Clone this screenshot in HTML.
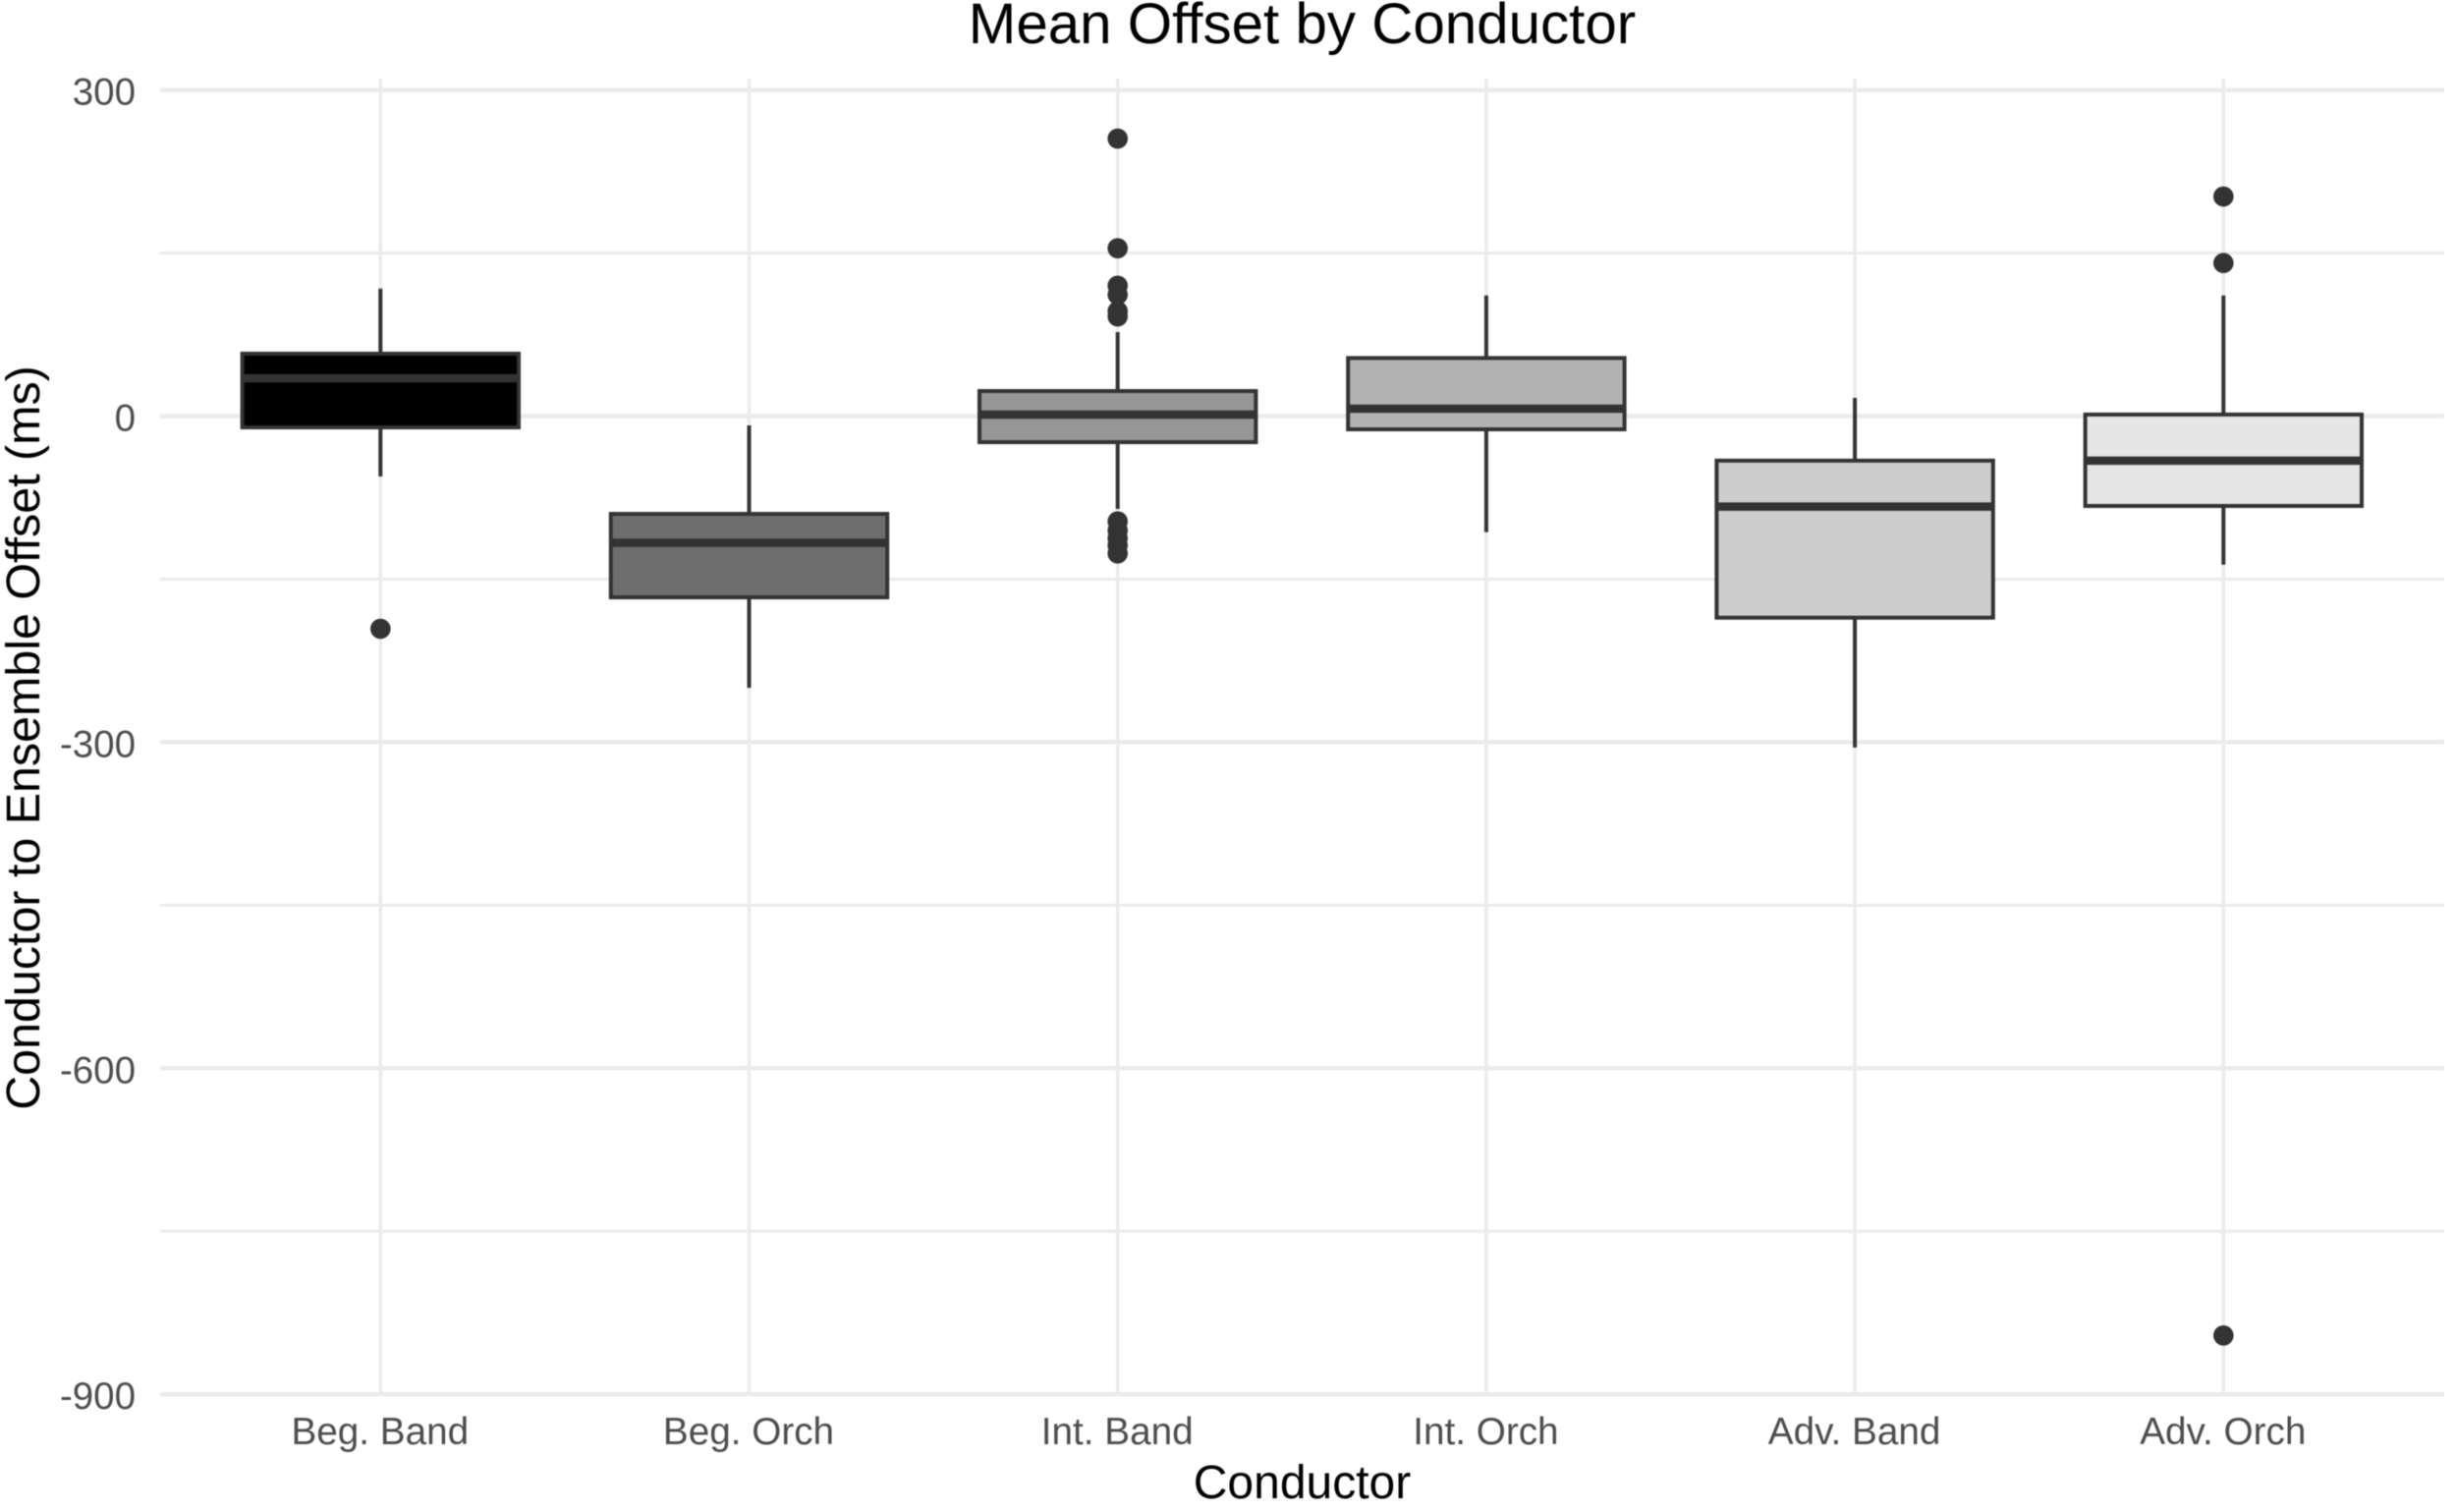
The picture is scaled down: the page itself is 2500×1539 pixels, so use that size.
<!DOCTYPE html>
<html lang="en">
<head>
<meta charset="utf-8">
<title>Mean Offset by Conductor</title>
<style>
html,body{margin:0;padding:0;background:#fff;}
svg{display:block;font-family:"Liberation Sans",Arial,sans-serif;filter:blur(0.6px);}
</style>
</head>
<body>
<svg id="chart" xmlns="http://www.w3.org/2000/svg" width="2500" height="1539" viewBox="0 0 2500 1539">
  <rect x="0" y="0" width="2500" height="1539" fill="#ffffff"/>
  <g id="grid"></g>
  <g id="boxes"></g>
  <g id="y-ticks"></g>
  <g id="x-ticks"></g>
  <text x="1325.5" y="44" font-size="58.3" text-anchor="middle" fill="#000">Mean Offset by Conductor</text>
  <text x="1325.5" y="1525" font-size="48" text-anchor="middle" fill="#000">Conductor</text>
  <text transform="translate(40,751) rotate(-90)" font-size="48.4" text-anchor="middle" fill="#000">Conductor to Ensemble Offset (ms)</text>
</svg>
<script>
const categories = ["Beg. Band", "Beg. Orch", "Int. Band", "Int. Orch", "Adv. Band", "Adv. Orch"];
const q1 = [-10.4, -166.8, -24, -12.2, -185.5, -82.7];
const medians = [34.8, -116.6, 1.4, 6.8, -83.3, -41];
const q3 = [57.4, -90, 23, 53.4, -41, 1.4];
const whiskerLow = [-55.6, -250, -85.4, -106.8, -305, -136.7];
const whiskerHigh = [117.3, -8.6, 77.3, 111, 16.7, 111];
const outliers = [
  [-195.7],
  [],
  [255.3, 154.4, 120, 111.7, 96.5, 91.7, -96.9, -105.3, -112.5, -118.9, -126.4],
  [],
  [],
  [202, 140.8, -845.9]
];
const fills = ["#000000", "#6e6e6e", "#969696", "#b3b3b3", "#cdcdcd", "#e5e5e5"];
const yMajorTicks = [300, 0, -300, -600, -900];
const yMinorTicks = [150, -150, -450, -750];

const NS = "http://www.w3.org/2000/svg";
const plotLeft = 163, plotRight = 2488, plotTop = 80, plotBottom = 1419.5;
const firstX = 387.3, stepX = 375.2, boxRatio = 0.75;
const y0 = 423.5, yPerUnit = 1.1063;
const ink = "#333333", gridColor = "#ebebeb";

function xScale(i) { return firstX + i * stepX; }
function yScale(v) { return y0 - v * yPerUnit; }
function mk(tag, attrs, parent) {
  const el = document.createElementNS(NS, tag);
  for (const k in attrs) el.setAttribute(k, attrs[k]);
  parent.appendChild(el);
  return el;
}

const gridG = document.getElementById("grid");
const boxesG = document.getElementById("boxes");
const yTicksG = document.getElementById("y-ticks");
const xTicksG = document.getElementById("x-ticks");

yMinorTicks.forEach(function (v) {
  const l = mk("line", {x1: plotLeft, x2: plotRight, y1: yScale(v), y2: yScale(v), stroke: gridColor, "stroke-width": 3}, gridG);
  
  
});
yMajorTicks.forEach(function (v) {
  const l = mk("line", {x1: plotLeft, x2: plotRight, y1: yScale(v), y2: yScale(v), stroke: gridColor, "stroke-width": 4.5}, gridG);
  
  
  const t = mk("text", {x: 138, y: yScale(v) + 15, "font-size": 38.5, "text-anchor": "end", fill: "#4d4d4d"}, yTicksG);
  t.textContent = String(v);
  
  
});
categories.forEach(function (c, i) {
  const x = xScale(i);
  const l = mk("line", {x1: x, x2: x, y1: plotTop, y2: plotBottom, stroke: gridColor, "stroke-width": 3.5}, gridG);
  
  
  const t = mk("text", {x: x - 0.5, y: 1470, "font-size": 38.7, "text-anchor": "middle", fill: "#4d4d4d"}, xTicksG);
  t.textContent = c;
  
  

  const w = stepX * boxRatio;
  const g = mk("g", {}, boxesG);
  
  

  const wh = mk("line", {x1: x, x2: x, y1: yScale(whiskerHigh[i]), y2: yScale(q3[i]), stroke: ink, "stroke-width": 4}, g);
  
  
  const wl = mk("line", {x1: x, x2: x, y1: yScale(q1[i]), y2: yScale(whiskerLow[i]), stroke: ink, "stroke-width": 4}, g);
  
  
  const b = mk("rect", {x: x - w / 2, width: w, y: yScale(q3[i]), height: yScale(q1[i]) - yScale(q3[i]), fill: fills[i], stroke: ink, "stroke-width": 4}, g);
  
  
  const m = mk("line", {x1: x - w / 2, x2: x + w / 2, y1: yScale(medians[i]), y2: yScale(medians[i]), stroke: ink, "stroke-width": 8.5}, g);
  
  
  outliers[i].forEach(function (v) {
    const p = mk("circle", {cx: x, cy: yScale(v), r: 10.3, fill: ink}, g);
    
    
  });
});
</script>
</body>
</html>
